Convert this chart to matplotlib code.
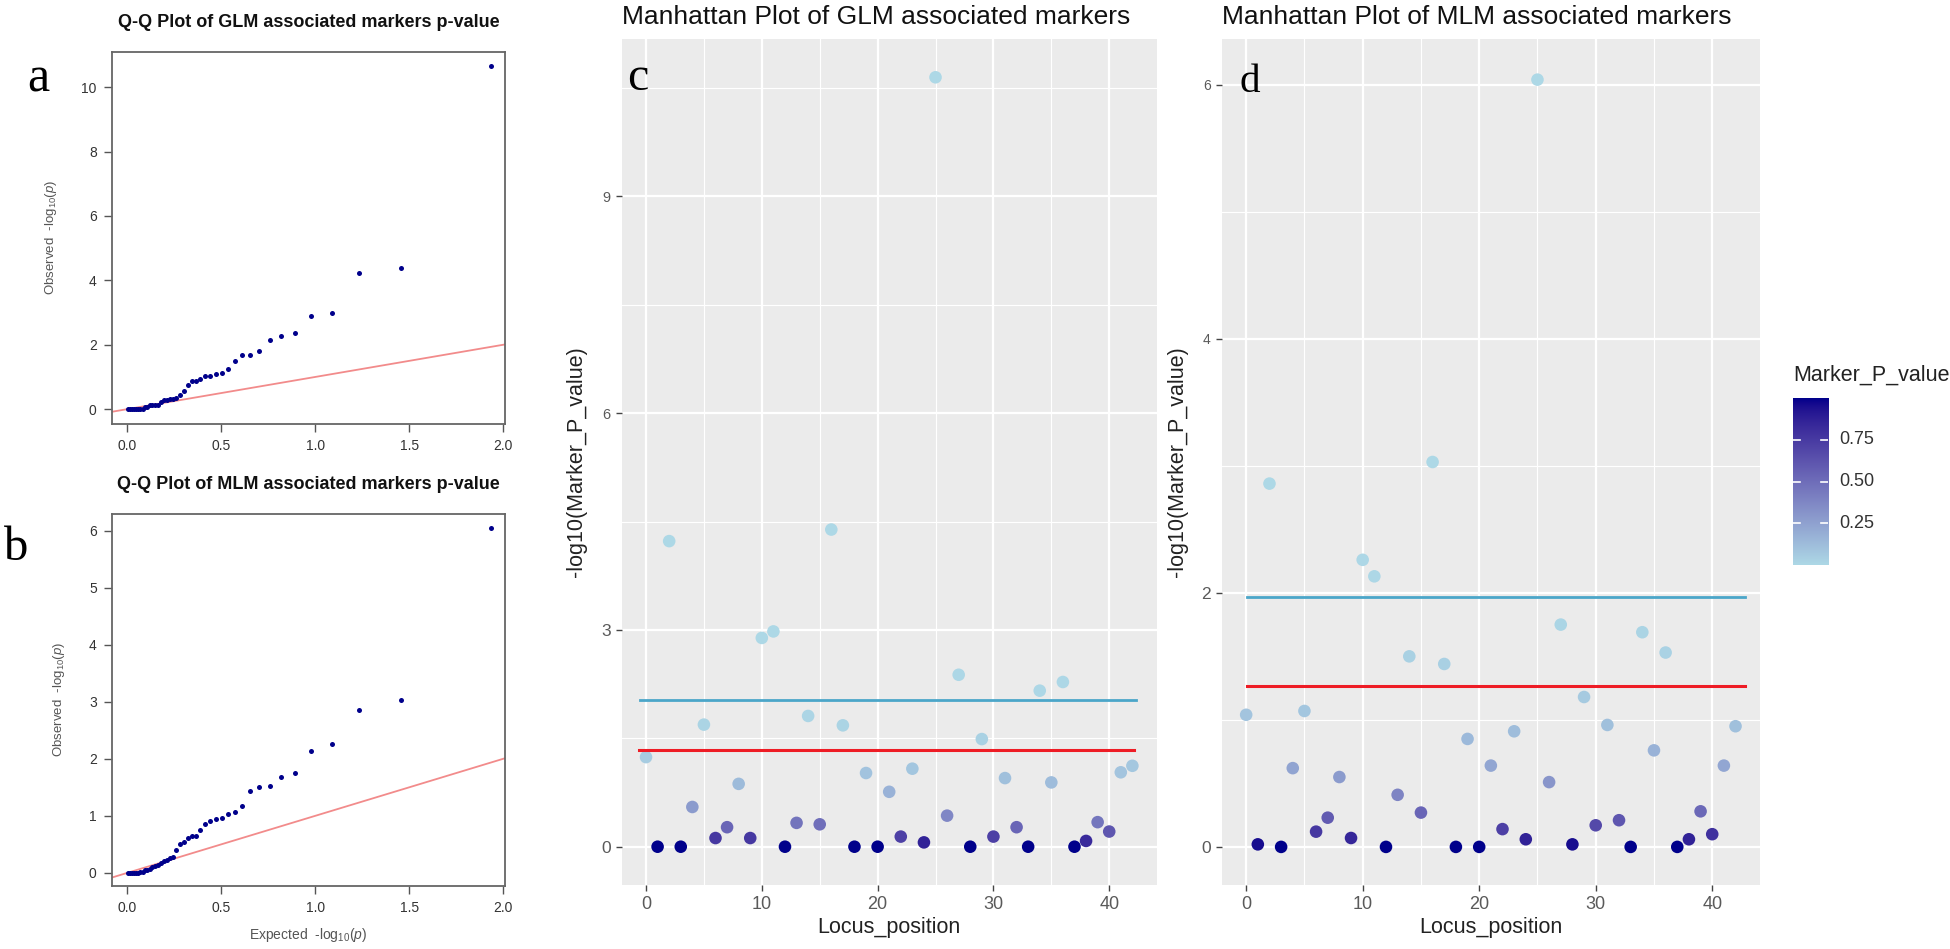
import numpy as np
import matplotlib
matplotlib.use("Agg")
import matplotlib.pyplot as plt
from matplotlib.colors import ListedColormap, Normalize

plt.rcParams['font.family'] = ['Liberation Sans', 'DejaVu Sans']
plt.rcParams['mathtext.fontset'] = 'custom'
plt.rcParams['mathtext.rm'] = 'Liberation Sans'
plt.rcParams['mathtext.it'] = 'Liberation Sans:italic'

# ---------------- data ----------------
locus = list(range(43))
glm_logp = [1.24, 0.00, 4.23, 0.00, 0.55, 1.69, 0.12, 0.27, 0.87, 0.12,
            2.89, 2.98, 0.00, 0.33, 1.81, 0.31, 4.39, 1.68, 0.00, 1.02,
            0.00, 0.76, 0.14, 1.08, 0.06, 10.65, 0.43, 2.38, 0.00, 1.49,
            0.14, 0.95, 0.27, 0.00, 2.16, 0.89, 2.28, 0.00, 0.08, 0.34,
            0.21, 1.03, 1.12]
mlm_logp = [1.04, 0.02, 2.86, 0.00, 0.62, 1.07, 0.12, 0.23, 0.55, 0.07,
            2.26, 2.13, 0.00, 0.41, 1.50, 0.27, 3.03, 1.44, 0.00, 0.85,
            0.00, 0.64, 0.14, 0.91, 0.06, 6.04, 0.51, 1.75, 0.02, 1.18,
            0.17, 0.96, 0.21, 0.00, 1.69, 0.76, 1.53, 0.00, 0.06, 0.28,
            0.10, 0.64, 0.95]
glm_thresholds = {'blue': 2.03, 'red': 1.34}
mlm_thresholds = {'blue': 1.97, 'red': 1.27}
cbar_ticks = [0.25, 0.50, 0.75]
cbar_labels = ['0.25', '0.50', '0.75']

# ---------------- colour scale (ggplot Lab gradient lightblue -> darkblue) ----------------
def _srgb_to_lab(rgb):
    rgb = np.asarray(rgb, float)
    c = np.where(rgb <= 0.04045, rgb / 12.92, ((rgb + 0.055) / 1.055) ** 2.4)
    M = np.array([[0.4124, 0.3576, 0.1805], [0.2126, 0.7152, 0.0722], [0.0193, 0.1192, 0.9505]])
    xyz = M @ c
    t = xyz / np.array([0.95047, 1.0, 1.08883])
    f = np.where(t > 0.008856, np.cbrt(t), 7.787 * t + 16 / 116)
    return np.array([116 * f[1] - 16, 500 * (f[0] - f[1]), 200 * (f[1] - f[2])])

def _lab_to_srgb(lab):
    L, a, b = lab
    fy = (L + 16) / 116
    fx = fy + a / 500
    fz = fy - b / 200
    f = np.array([fx, fy, fz])
    t = np.where(f > 0.206893, f ** 3, (f - 16 / 116) / 7.787)
    xyz = t * np.array([0.95047, 1.0, 1.08883])[:, None]
    Minv = np.linalg.inv(np.array([[0.4124, 0.3576, 0.1805], [0.2126, 0.7152, 0.0722], [0.0193, 0.1192, 0.9505]]))
    c = Minv @ xyz
    c = np.clip(c, 0, 1)
    rgb = np.where(c <= 0.0031308, 12.92 * c, 1.055 * c ** (1 / 2.4) - 0.055)
    return np.clip(rgb, 0, 1).T

low = np.array([0xAD, 0xD8, 0xE6]) / 255.0
high = np.array([0x00, 0x00, 0x8B]) / 255.0
la, lb = _srgb_to_lab(low), _srgb_to_lab(high)
tt = np.linspace(0, 1, 256)
labs = la[:, None] * (1 - tt) + lb[:, None] * tt
cmap = ListedColormap(_lab_to_srgb(labs))
norm = Normalize(0, 1)

# ---------------- figure ----------------
W, H = 1950, 949
fig = plt.figure(figsize=(W / 100, H / 100), dpi=100)
fig.patch.set_facecolor('white')

def fx(px):
    return px / W

def fy(py):
    return 1 - py / H

def axes_px(x0, y0, x1, y1):
    return fig.add_axes([fx(x0), fy(y1), (x1 - x0) / W, (y1 - y0) / H])

# ---------------- QQ plots ----------------
def qq_panel(ax, values, ylim, yticks, show_xlabel):
    obs = np.sort(np.asarray(values))[::-1]
    n = len(obs)
    exp = -np.log10((np.arange(1, n + 1) - 0.5) / n)
    ax.set_xlim(-0.08, 2.01)
    ax.set_ylim(*ylim)
    ax.plot([-1, 3], [-1, 3], color='#F28B8B', lw=1.3, zorder=1)
    ax.plot(exp, obs, 'o', color='#00008B', ms=3.6, mew=0, zorder=2)
    ax.set_xticks([0.0, 0.5, 1.0, 1.5, 2.0])
    ax.set_xticklabels(['0.0', '0.5', '1.0', '1.5', '2.0'])
    ax.set_yticks(yticks)
    ax.set_yticklabels([str(v) for v in yticks])
    ax.tick_params(axis='both', direction='out', length=6, width=1.0, color='#555555',
                   labelsize=10, labelcolor='#333333', pad=5)
    for s in ax.spines.values():
        s.set_color('#666666')
        s.set_linewidth(1.3)
    ax.set_ylabel(r'Observed  -log$_{10}$($p$)', fontsize=9.5, color='#555555', labelpad=16)
    if show_xlabel:
        ax.set_xlabel(r'Expected  -log$_{10}$($p$)', fontsize=10, color='#555555', labelpad=8)

ax_a = axes_px(112, 51.7, 505, 424)
qq_panel(ax_a, glm_logp, (-0.46, 11.1), [0, 2, 4, 6, 8, 10], False)
ax_b = axes_px(112, 514, 505, 885.5)
qq_panel(ax_b, mlm_logp, (-0.22, 6.29), [0, 1, 2, 3, 4, 5, 6], True)

fig.text(fx(308.5), fy(27.3), 'Q-Q Plot of GLM associated markers p-value', ha='center',
         va='baseline', fontsize=13, fontweight='bold', color='#111111')
fig.text(fx(308.5), fy(489.3), 'Q-Q Plot of MLM associated markers p-value', ha='center',
         va='baseline', fontsize=13, fontweight='bold', color='#111111')

# ---------------- Manhattan plots ----------------
def manhattan(ax, values, thr, ylim, major, minor, ytick_sizes, blue_x, red_x):
    ax.set_facecolor('#EBEBEB')
    ax.set_xlim(-2.1, 44.1)
    ax.set_ylim(*ylim)
    for v in [5, 15, 25, 35]:
        ax.axvline(v, color='white', lw=0.8, zorder=0)
    for v in minor:
        ax.axhline(v, color='white', lw=0.8, zorder=0)
    for v in [0, 10, 20, 30, 40]:
        ax.axvline(v, color='white', lw=1.6, zorder=0)
    for v in major:
        ax.axhline(v, color='white', lw=1.6, zorder=0)
    pvals = 10.0 ** (-np.asarray(values))
    ax.scatter(locus, values, c=pvals, cmap=cmap, norm=norm, s=82, linewidths=0, zorder=3)
    ax.plot(blue_x, [thr['blue'], thr['blue']], color='#4BA6C9', lw=2.0, zorder=4)
    ax.plot(red_x, [thr['red'], thr['red']], color='#EE1C25', lw=2.2, zorder=4)
    ax.set_xticks([0, 10, 20, 30, 40])
    ax.set_yticks(major)
    ax.set_yticklabels([str(v) for v in major])
    for lab, sz in zip(ax.get_yticklabels(), ytick_sizes):
        lab.set_fontsize(sz)
    ax.tick_params(axis='both', direction='out', length=4, width=1.0, color='#444444',
                   labelcolor='#5a5a5a', pad=4)
    ax.tick_params(axis='x', labelsize=13)
    for s in ax.spines.values():
        s.set_visible(False)
    ax.set_xlabel('Locus_position', fontsize=15.5, color='#222222', labelpad=3)
    ax.set_ylabel('-log10(Marker_P_value)', fontsize=15.5, color='#222222', labelpad=2)

ax_c = axes_px(621.7, 39, 1156.7, 885)
manhattan(ax_c, glm_logp, glm_thresholds, (-0.53, 11.18), [0, 3, 6, 9], [1.5, 4.5, 7.5, 10.5],
          [12.5, 12.5, 10.5, 10.5], [-0.5, 42.3], [-0.6, 42.1])
ax_c.yaxis.set_label_coords((587 - 621.7) / 535, 0.5)

ax_d = axes_px(1221.7, 39, 1760, 885)
manhattan(ax_d, mlm_logp, mlm_thresholds, (-0.30, 6.36), [0, 2, 4, 6], [1, 3, 5],
          [12.5, 12.5, 10, 10], [0.1, 42.8], [0.1, 42.8])
ax_d.yaxis.set_label_coords((1188 - 1221.7) / 538.3, 0.5)

fig.text(fx(621.7), fy(24), 'Manhattan Plot of GLM associated markers', ha='left',
         va='baseline', fontsize=19, color='#111111')
fig.text(fx(1221.7), fy(24), 'Manhattan Plot of MLM associated markers', ha='left',
         va='baseline', fontsize=19, color='#111111')

# ---------------- colour bar legend ----------------
ax_cb = axes_px(1793, 398, 1828, 565)
grad = np.linspace(0, 1, 256).reshape(-1, 1)
ax_cb.imshow(grad, aspect='auto', cmap=cmap, norm=norm, origin='lower', extent=[0, 1, 0, 1])
ax_cb.set_xlim(0, 1)
ax_cb.set_ylim(0, 1)
for t in cbar_ticks:
    ax_cb.plot([0, 0.2], [t, t], color='white', lw=1.2)
    ax_cb.plot([0.8, 1], [t, t], color='white', lw=1.2)
ax_cb.set_xticks([])
ax_cb.set_yticks([])
for s in ax_cb.spines.values():
    s.set_visible(False)
for t, lab in zip(cbar_ticks, cbar_labels):
    fig.text(fx(1839.6), fy(565 - t * 167), lab, ha='left', va='center', fontsize=13, color='#333333')
fig.text(fx(1793), fy(381), 'Marker_P_value', ha='left', va='baseline', fontsize=15.5, color='#222222')

# ---------------- panel letters ----------------
serif = ['Liberation Serif', 'DejaVu Serif']
fig.text(fx(38), fy(92), 'a', ha='center', va='baseline', fontsize=36, family=serif, color='black')
fig.text(fx(16.5), fy(560), 'b', ha='center', va='baseline', fontsize=35, family=serif, color='black')
fig.text(fx(638), fy(90), 'c', ha='center', va='baseline', fontsize=34.5, family=serif, color='black')
fig.text(fx(1249.6), fy(92.5), 'd', ha='center', va='baseline', fontsize=29.5, family=serif, color='black')

fig.savefig('out.png', dpi=100, facecolor='white')
